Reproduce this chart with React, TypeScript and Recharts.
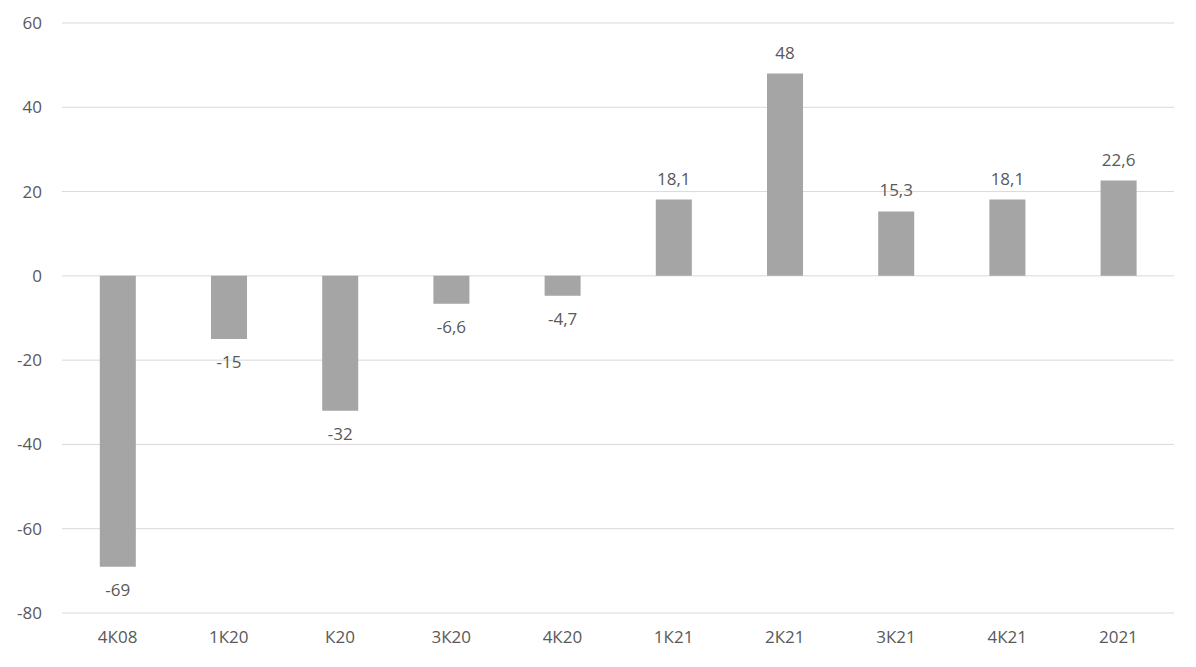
import React from "react"
import { BarChart, Bar, XAxis, YAxis, CartesianGrid, LabelList } from "recharts"

const categories = ["4К08", "1К20", "К20", "3К20", "4К20", "1К21", "2К21", "3К21", "4К21", "2021"]
const values = [-69, -15, -32, -6.6, -4.7, 18.1, 48, 15.3, 18.1, 22.6]
const yTicks = [-80, -60, -40, -20, 0, 20, 40, 60]

const data = categories.map((name, i) => ({ name, value: values[i] }))

const FONT = "'Open Sans', sans-serif"
const TEXT = "#595959"

const fmt = (v: number) => String(v).replace(".", ",")

function ValueLabel(props: any) {
  const { x, y, width, height, value } = props
  const a = Number(y)
  const b = Number(y) + Number(height)
  const cx = Number(x) + Number(width) / 2
  if (value >= 0) {
    const top = Math.min(a, b)
    return (
      <text x={cx} y={top - 15} textAnchor="middle" fill={TEXT} fontSize={17} fontFamily={FONT}>
        {fmt(value)}
      </text>
    )
  }
  const bottom = Math.max(a, b)
  return (
    <text x={cx} y={bottom + 29} textAnchor="middle" fill={TEXT} fontSize={17} fontFamily={FONT}>
      {fmt(value)}
    </text>
  )
}

export default function App() {
  return (
    <BarChart
      width={1180}
      height={651}
      data={data}
      margin={{ top: 15, right: 14, bottom: 6, left: 0 }}
      barCategoryGap="34%"
    >
      <CartesianGrid vertical={false} stroke="#d9d9d9" strokeWidth={1} />
      <XAxis
        dataKey="name"
        axisLine={false}
        tickLine={false}
        height={40}
        tickSize={6}
        tickMargin={12}
        interval={0}
        tick={{ fill: TEXT, fontSize: 17, fontFamily: FONT }}
      />
      <YAxis
        width={54}
        domain={[-80, 60]}
        ticks={yTicks}
        axisLine={false}
        tickLine={false}
        tickSize={6}
        tickMargin={14}
        interval={0}
        tick={{ fill: TEXT, fontSize: 17, fontFamily: FONT }}
      />
      <Bar dataKey="value" fill="#a5a5a5" isAnimationActive={false}>
        <LabelList dataKey="value" content={<ValueLabel />} />
      </Bar>
    </BarChart>
  )
}
